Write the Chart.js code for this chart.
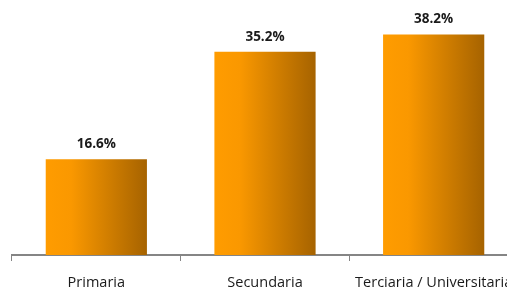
<!DOCTYPE html>
<html>
<head>
<meta charset="utf-8">
<script src="https://cdn.jsdelivr.net/npm/chart.js@4/dist/chart.umd.min.js"></script>
<style>
html, body { margin: 0; padding: 0; overflow: hidden; background: #fff; }
#wrap { position: relative; width: 530px; height: 290px; }
</style>
</head>
<body>
<div id="wrap"><canvas id="myChart"></canvas></div>
<script>
var categories = ['Primaria', 'Secundaria', 'Terciaria / Universitaria']
var values = [16.6, 35.2, 38.2]
var valueLabels = ['16.6%', '35.2%', '38.2%']

var axisGrey = '#858585'

function barGradient(context) {
    var chart = context.chart
    var area = chart.chartArea
    if (!area) return '#f39200'
    var xs = chart.scales.x
    var center = xs.getPixelForTick(context.dataIndex)
    var half = (area.width / categories.length) * 0.6 / 2
    var g = chart.ctx.createLinearGradient(center - half, 0, center + half, 0)
    g.addColorStop(0, '#ff9c00')
    g.addColorStop(0.25, '#fa9800')
    g.addColorStop(1, '#a66300')
    return g
}

var valueLabelPlugin = {
    id: 'valueLabels',
    afterDatasetsDraw: function (chart) {
        var ctx = chart.ctx
        var meta = chart.getDatasetMeta(0)
        ctx.save()
        ctx.font = 'bold 13.5px "Open Sans", sans-serif'
        ctx.fillStyle = '#1a1a1a'
        ctx.textAlign = 'center'
        ctx.textBaseline = 'middle'
        meta.data.forEach(function (bar, i) {
            ctx.fillText(valueLabels[i], bar.x, bar.y - 15)
        })
        ctx.restore()
    }
}

var chartField = document.querySelector('#myChart').getContext('2d')

var myChart = new Chart(chartField, {
    type: 'bar',
    data: {
        labels: categories,
        datasets: [{
            data: values,
            backgroundColor: barGradient,
            borderWidth: 0,
            categoryPercentage: 1,
            barPercentage: 0.6
        }]
    },
    options: {
        responsive: true,
        maintainAspectRatio: false,
        animation: false,
        layout: { padding: { left: 12, right: 12, top: 1, bottom: 0 } },
        plugins: {
            legend: { display: false },
            tooltip: { enabled: false }
        },
        scales: {
            y: {
                display: false,
                min: 0,
                max: 44
            },
            x: {
                afterFit: function (scale) {
                    scale.paddingLeft = 0
                    scale.paddingRight = 0
                    scale.height = 35
                },
                grid: {
                    offset: true,
                    drawOnChartArea: false,
                    drawTicks: true,
                    tickLength: 6,
                    color: axisGrey
                },
                border: { display: true, color: axisGrey, width: 2 },
                ticks: {
                    color: '#1a1a1a',
                    font: { family: '"Open Sans", sans-serif', size: 14.5 },
                    padding: 13,
                    maxRotation: 0,
                    minRotation: 0,
                    autoSkip: false
                }
            }
        }
    },
    plugins: [valueLabelPlugin]
})
</script>
</body>
</html>
